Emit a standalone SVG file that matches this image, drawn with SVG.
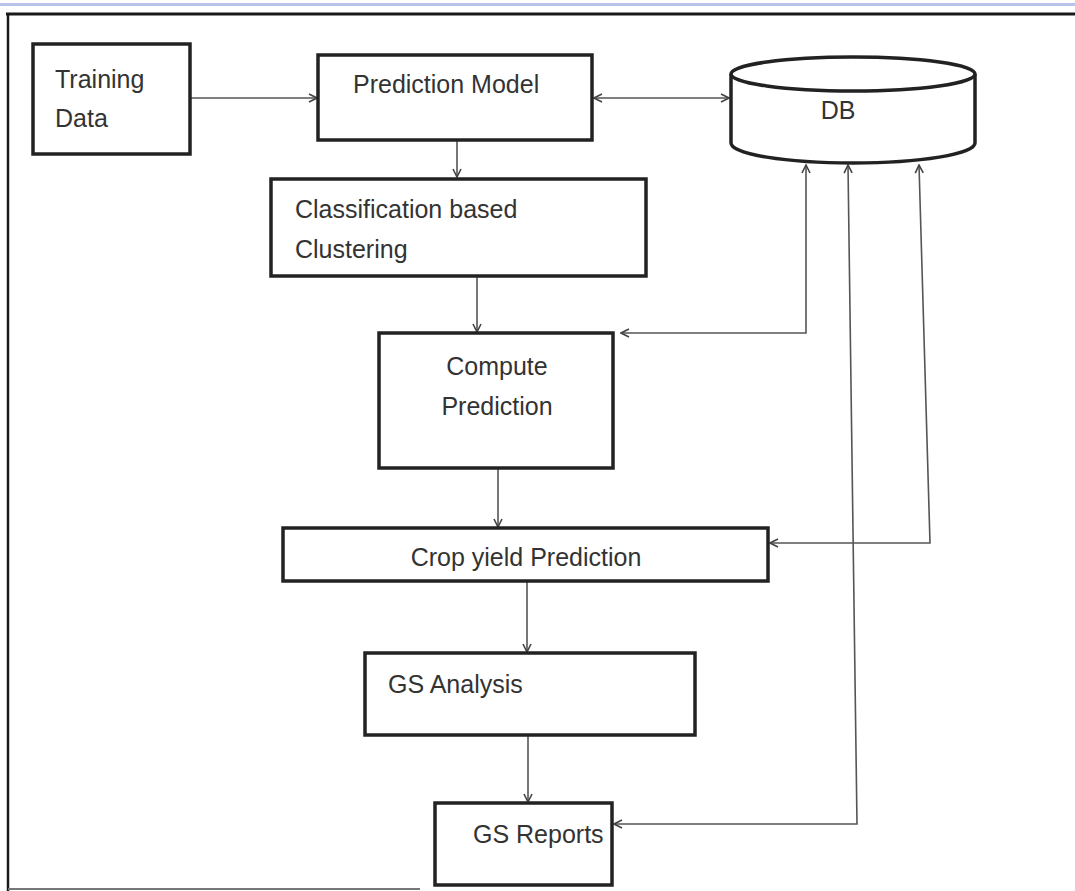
<svg xmlns="http://www.w3.org/2000/svg" width="1075" height="891" viewBox="0 0 1075 891">
<defs>
<style>
.box{fill:#fff;stroke:#222;stroke-width:3.5}
.t{font-family:"Liberation Sans",Arial,sans-serif;font-size:25px;fill:#333}
.c{fill:none;stroke:#555;stroke-width:1.6}
</style>
<marker id="ah" viewBox="0 0 10 10" refX="9" refY="5" markerWidth="10" markerHeight="10" markerUnits="userSpaceOnUse" orient="auto-start-reverse">
<path d="M1,1 L9,5 L1,9" fill="none" stroke="#444" stroke-width="1.6"/>
</marker>
</defs>
<rect width="1075" height="891" fill="#fff"/>
<g id="frame">
<line x1="0" y1="4.5" x2="1075" y2="4.5" stroke="#b9c3ea" stroke-width="3"/>
<line x1="6" y1="14" x2="1075" y2="14" stroke="#1a1a1a" stroke-width="3"/>
<line x1="8" y1="13" x2="8" y2="891" stroke="#1a1a1a" stroke-width="2.5"/>
<line x1="8" y1="889" x2="420" y2="889" stroke="#777" stroke-width="2"/>
</g>
<g id="connectors">
<line class="c" x1="190" y1="98" x2="317" y2="98" marker-end="url(#ah)"/>
<line class="c" x1="594" y1="98" x2="729" y2="98" marker-start="url(#ah)" marker-end="url(#ah)"/>
<line class="c" x1="457" y1="140" x2="457" y2="177" marker-end="url(#ah)"/>
<line class="c" x1="477" y1="277" x2="477" y2="332" marker-end="url(#ah)"/>
<line class="c" x1="498" y1="468" x2="498" y2="527" marker-end="url(#ah)"/>
<line class="c" x1="527" y1="582" x2="527" y2="652" marker-end="url(#ah)"/>
<line class="c" x1="528" y1="736" x2="528" y2="802" marker-end="url(#ah)"/>
<polyline class="c" points="806,165 806,333 621,333" marker-start="url(#ah)" marker-end="url(#ah)"/>
<polyline class="c" points="919,165 930,543 770,543" marker-start="url(#ah)" marker-end="url(#ah)"/>
<polyline class="c" points="848,165 857,824 614,824" marker-start="url(#ah)" marker-end="url(#ah)"/>
</g>
<g id="training-data">
<rect class="box" x="33" y="44" width="157" height="110"/>
<text class="t" x="55" y="88">Training</text>
<text class="t" x="55" y="127">Data</text>
</g>
<g id="prediction-model">
<rect class="box" x="318" y="55" width="274" height="85"/>
<text class="t" x="353" y="93">Prediction Model</text>
</g>
<g id="db">
<path class="box" d="M731,74 L731,143 A122,20 0 0 0 975,143 L975,74"/>
<ellipse class="box" cx="853" cy="74" rx="122" ry="17"/>
<text class="t" x="838" y="119" text-anchor="middle">DB</text>
</g>
<g id="classification">
<rect class="box" x="271" y="179" width="375" height="97"/>
<text class="t" x="295" y="218">Classification based</text>
<text class="t" x="295" y="258">Clustering</text>
</g>
<g id="compute-prediction">
<rect class="box" x="379" y="333" width="234" height="135"/>
<text class="t" x="497" y="375" text-anchor="middle">Compute</text>
<text class="t" x="497" y="415" text-anchor="middle">Prediction</text>
</g>
<g id="crop-yield">
<rect class="box" x="283" y="528" width="485" height="53"/>
<text class="t" x="526" y="566" text-anchor="middle">Crop yield Prediction</text>
</g>
<g id="gs-analysis">
<rect class="box" x="365" y="653" width="330" height="82"/>
<text class="t" x="388" y="693">GS Analysis</text>
</g>
<g id="gs-reports">
<rect class="box" x="435" y="803" width="177" height="82"/>
<text class="t" x="473" y="843">GS Reports</text>
</g>
</svg>
